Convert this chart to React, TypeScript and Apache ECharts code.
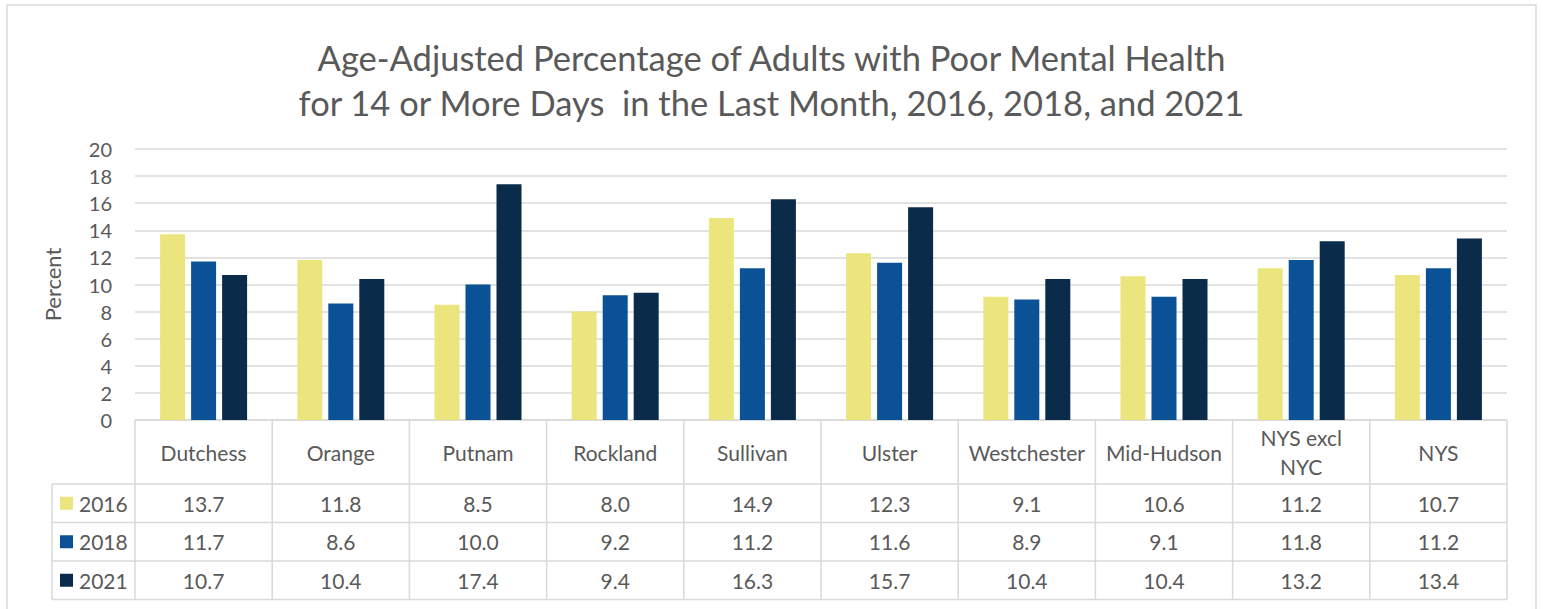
import React, { useEffect, useRef } from "react";
import * as echarts from "echarts";

const categories = ["Dutchess", "Orange", "Putnam", "Rockland", "Sullivan", "Ulster", "Westchester", "Mid-Hudson", "NYS excl\nNYC", "NYS"];
const years = ["2016", "2018", "2021"];
const values2016 = [13.7, 11.8, 8.5, 8.0, 14.9, 12.3, 9.1, 10.6, 11.2, 10.7];
const values2018 = [11.7, 8.6, 10.0, 9.2, 11.2, 11.6, 8.9, 9.1, 11.8, 11.2];
const values2021 = [10.7, 10.4, 17.4, 9.4, 16.3, 15.7, 10.4, 10.4, 13.2, 13.4];
const titleLines = [
  "Age-Adjusted Percentage of Adults with Poor Mental Health",
  "for 14 or More Days  in the Last Month, 2016, 2018, and 2021",
];
const yAxisName = "Percent";

const colors = ["#ECE57E", "#0A5195", "#0B2B4B"];
const FONT = "Lato, 'Open Sans', sans-serif";
const TEXT = "#595959";
const LINE = "#D9D9D9";

export default function App() {
  const ref = useRef<HTMLDivElement>(null);
  useEffect(() => {
    document.body.style.margin = "0";
    if (!ref.current) return;
    const chart = echarts.init(ref.current, undefined, { renderer: "svg" });
    const W = 1543;
    const H = 609;
    const gridLeft = 135;
    const gridRight = 36;
    const gridTop = 149;
    const gridBottom = 189;
    const plotRight = W - gridRight;
    const axisY = H - gridBottom;
    const colW = (plotRight - gridLeft) / categories.length;
    const headerBottom = 484;
    const rowH = 38.5;
    const legendLeft = 52;
    const tableBottom = headerBottom + rowH * years.length;
    const allValues = [values2016, values2018, values2021];
    const tableFont = `21px ${FONT}`;

    const g: any[] = [];
    g.push({ type: "rect", shape: { x: 7, y: 5, width: 1529, height: 640 }, style: { fill: "none", stroke: LINE, lineWidth: 1.5 }, silent: true });
    const line = (x1: number, y1: number, x2: number, y2: number) =>
      g.push({ type: "line", shape: { x1, y1, x2, y2 }, style: { stroke: LINE, lineWidth: 1.5 }, silent: true });
    line(gridLeft, axisY, plotRight, axisY);
    for (let r = 0; r <= years.length; r++) {
      const y = headerBottom + r * rowH;
      line(legendLeft, y, plotRight, y);
    }
    for (let c = 0; c <= categories.length; c++) {
      const x = gridLeft + c * colW;
      line(x, axisY, x, tableBottom);
    }
    line(legendLeft, headerBottom, legendLeft, tableBottom);
    categories.forEach((cat, i) => {
      g.push({
        type: "text",
        x: gridLeft + (i + 0.5) * colW,
        y: (axisY + headerBottom) / 2,
        style: { text: cat, fill: TEXT, font: tableFont, align: "center", verticalAlign: "middle", lineHeight: 29 },
        silent: true,
      });
    });
    years.forEach((yr, r) => {
      const cy = headerBottom + (r + 0.5) * rowH;
      g.push({ type: "rect", shape: { x: 60, y: cy - 6.5, width: 13, height: 13 }, style: { fill: colors[r] }, silent: true });
      g.push({ type: "text", x: 79, y: cy, style: { text: yr, fill: TEXT, font: tableFont, align: "left", verticalAlign: "middle" }, silent: true });
      allValues[r].forEach((v, i) => {
        g.push({
          type: "text",
          x: gridLeft + (i + 0.5) * colW,
          y: cy,
          style: { text: v.toFixed(1), fill: TEXT, font: tableFont, align: "center", verticalAlign: "middle" },
          silent: true,
        });
      });
    });

    chart.setOption({
      animation: false,
      backgroundColor: "#fff",
      title: {
        text: titleLines.join("\n"),
        left: "center",
        top: 30,
        textStyle: { color: TEXT, fontFamily: FONT, fontSize: 34.5, fontWeight: "normal", lineHeight: 45 },
      },
      grid: { left: gridLeft, right: gridRight, top: gridTop, bottom: gridBottom },
      xAxis: {
        type: "category",
        data: categories,
        axisLine: { show: false },
        axisTick: { show: false },
        axisLabel: { show: false },
      },
      yAxis: {
        type: "value",
        min: 0,
        max: 20,
        interval: 2,
        name: yAxisName,
        nameLocation: "middle",
        nameRotate: 90,
        nameGap: 72,
        nameTextStyle: { color: TEXT, fontFamily: FONT, fontSize: 22 },
        axisLine: { show: false },
        axisTick: { show: false },
        axisLabel: { color: TEXT, fontFamily: FONT, fontSize: 20, margin: 23 },
        splitLine: { lineStyle: { color: LINE, width: 1.5 } },
      },
      series: [values2016, values2018, values2021].map((d, i) => ({
        name: years[i],
        type: "bar",
        data: d,
        barWidth: 25,
        barGap: "24%",
        itemStyle: { color: colors[i] },
      })),
      graphic: g,
    });
    return () => chart.dispose();
  }, []);
  return <div ref={ref} style={{ width: 1543, height: 609 }} />;
}
